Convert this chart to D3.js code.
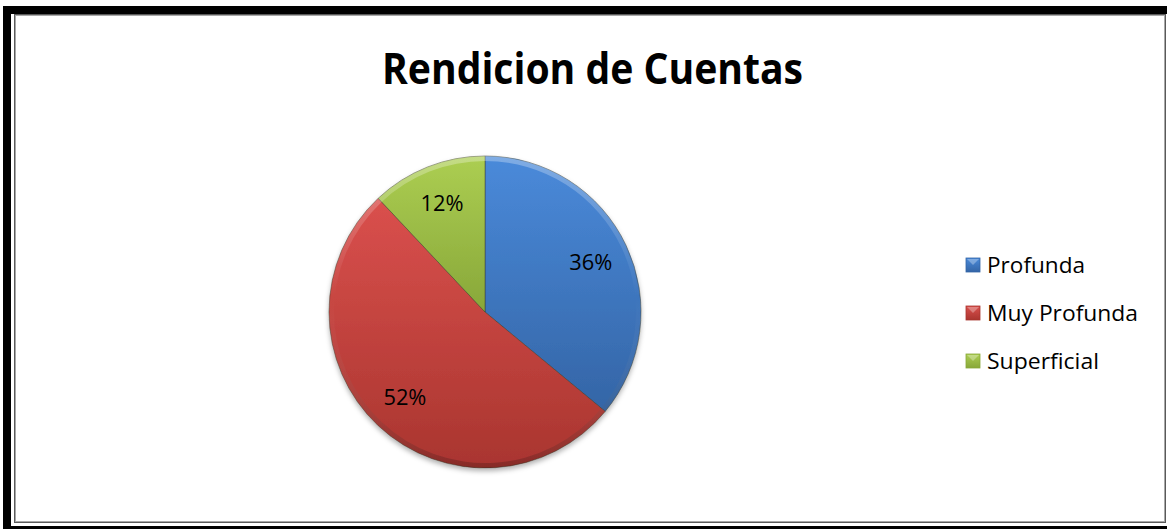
<!DOCTYPE html>
<html>
<head>
<meta charset="utf-8">
<script src="https://cdn.jsdelivr.net/npm/d3@7"></script>
<style>
  body { margin: 0; background: #fff; }
  svg { display: block; }
</style>
</head>
<body>
<div id="chart"></div>
<script>
// data
const categories = ["Profunda", "Muy Profunda", "Superficial"];
const values = [36, 52, 12];
const labels = ["36%", "52%", "12%"];
const titleText = "Rendicion de Cuentas";

const WIDTH = 1167, HEIGHT = 529;
const FONT = "'Open Sans', 'Noto Sans', sans-serif";

// light top / dark bottom of each slice
const colorsTop = ["#4a8ada", "#da504d", "#acce52"];
const colorsBot = ["#3465a6", "#a9352f", "#88a739"];

const svg = d3.select("#chart").append("svg")
    .attr("width", WIDTH)
    .attr("height", HEIGHT);

const defs = svg.append("defs");

// frame: thick black on left, top, bottom + grey inner border
svg.append("rect").attr("x", 3).attr("y", 6).attr("width", WIDTH - 3).attr("height", HEIGHT - 6).attr("fill", "#000");
svg.append("rect").attr("x", 11).attr("y", 14).attr("width", WIDTH - 11).attr("height", 512).attr("fill", "#fff");
svg.append("rect").attr("x", 14.5).attr("y", 14.5).attr("width", 1151).attr("height", 508)
    .attr("fill", "#fff").attr("stroke", "#5a5a5a").attr("stroke-width", 1);
svg.append("rect").attr("x", 15.5).attr("y", 15.5).attr("width", 1149).attr("height", 506)
    .attr("fill", "none").attr("stroke", "#a8a8a8").attr("stroke-width", 1);

// title
svg.append("text")
    .attr("x", 592.5).attr("y", 84)
    .attr("text-anchor", "middle")
    .attr("font-family", FONT)
    .attr("font-weight", "bold")
    .attr("font-size", 43)
    .attr("textLength", 421)
    .attr("lengthAdjust", "spacingAndGlyphs")
    .attr("fill", "#000")
    .text(titleText);

// gradients per slice
categories.forEach((c, i) => {
    const g = defs.append("linearGradient").attr("id", "grad" + i)
        .attr("x1", 0).attr("y1", 0).attr("x2", 0).attr("y2", 1);
    g.append("stop").attr("offset", "0%").attr("stop-color", colorsTop[i]);
    g.append("stop").attr("offset", "100%").attr("stop-color", colorsBot[i]);
});

const bevel = defs.append("linearGradient").attr("id", "bevel")
    .attr("gradientUnits", "userSpaceOnUse")
    .attr("x1", 0).attr("y1", -156).attr("x2", 0).attr("y2", 156);
bevel.append("stop").attr("offset", "0%").attr("stop-color", "#fff").attr("stop-opacity", 0.3);
bevel.append("stop").attr("offset", "45%").attr("stop-color", "#fff").attr("stop-opacity", 0.0);
bevel.append("stop").attr("offset", "100%").attr("stop-color", "#000").attr("stop-opacity", 0.2);

const shadow = defs.append("filter").attr("id", "shadow")
    .attr("x", "-10%").attr("y", "-10%").attr("width", "120%").attr("height", "125%");
shadow.append("feDropShadow").attr("dx", 0).attr("dy", 3).attr("stdDeviation", 2.5)
    .attr("flood-color", "#000").attr("flood-opacity", 0.3);

// pie
const R = 156;
const cx = 485, cy = 312;

const pie = d3.pie().sort(null).value(d => d);
const arcs = pie(values);
const arc = d3.arc().innerRadius(0).outerRadius(R);
const rim = d3.arc().innerRadius(R - 5).outerRadius(R);
const labelArc = d3.arc().innerRadius(117).outerRadius(117);

const g = svg.append("g").attr("transform", `translate(${cx},${cy})`);

g.append("g").attr("filter", "url(#shadow)")
  .selectAll("path.slice").data(arcs).join("path")
    .attr("class", "slice")
    .attr("d", arc)
    .attr("fill", (d, i) => `url(#grad${i})`)
    .attr("stroke", "#3a3a2a")
    .attr("stroke-opacity", 0.6)
    .attr("stroke-width", 0.8);

g.selectAll("path.rim").data(arcs).join("path")
    .attr("class", "rim")
    .attr("d", rim)
    .attr("fill", "url(#bevel)");

g.selectAll("text.lbl").data(arcs).join("text")
    .attr("class", "lbl")
    .attr("transform", d => `translate(${labelArc.centroid(d)})`)
    .attr("text-anchor", "middle")
    .attr("dy", "0.35em")
    .attr("font-family", FONT)
    .attr("font-size", 22)
    .attr("textLength", 43)
    .attr("lengthAdjust", "spacingAndGlyphs")
    .attr("fill", "#000")
    .text((d, i) => labels[i]);

// legend
const legend = svg.append("g").attr("transform", "translate(966,0)");
const rowY = d3.scalePoint().domain(categories).range([265, 361]);

const items = legend.selectAll("g.item").data(categories).join("g")
    .attr("class", "item")
    .attr("transform", d => `translate(0,${rowY(d)})`);

items.append("rect")
    .attr("x", 0).attr("y", -7).attr("width", 14).attr("height", 14)
    .attr("fill", (d, i) => `url(#grad${i})`)
    .attr("stroke", (d, i) => colorsBot[i])
    .attr("stroke-width", 0.8);

items.append("path")
    .attr("d", "M1,-6 L13,-6 L7,0 Z")
    .attr("fill", "#fff")
    .attr("fill-opacity", 0.3);

const legendWidths = [98, 151, 112];
items.append("text")
    .attr("x", 21).attr("y", 0)
    .attr("dy", "0.35em")
    .attr("font-family", FONT)
    .attr("font-size", 22)
    .attr("textLength", (d, i) => legendWidths[i])
    .attr("lengthAdjust", "spacingAndGlyphs")
    .attr("fill", "#000")
    .text(d => d);
</script>
</body>
</html>
